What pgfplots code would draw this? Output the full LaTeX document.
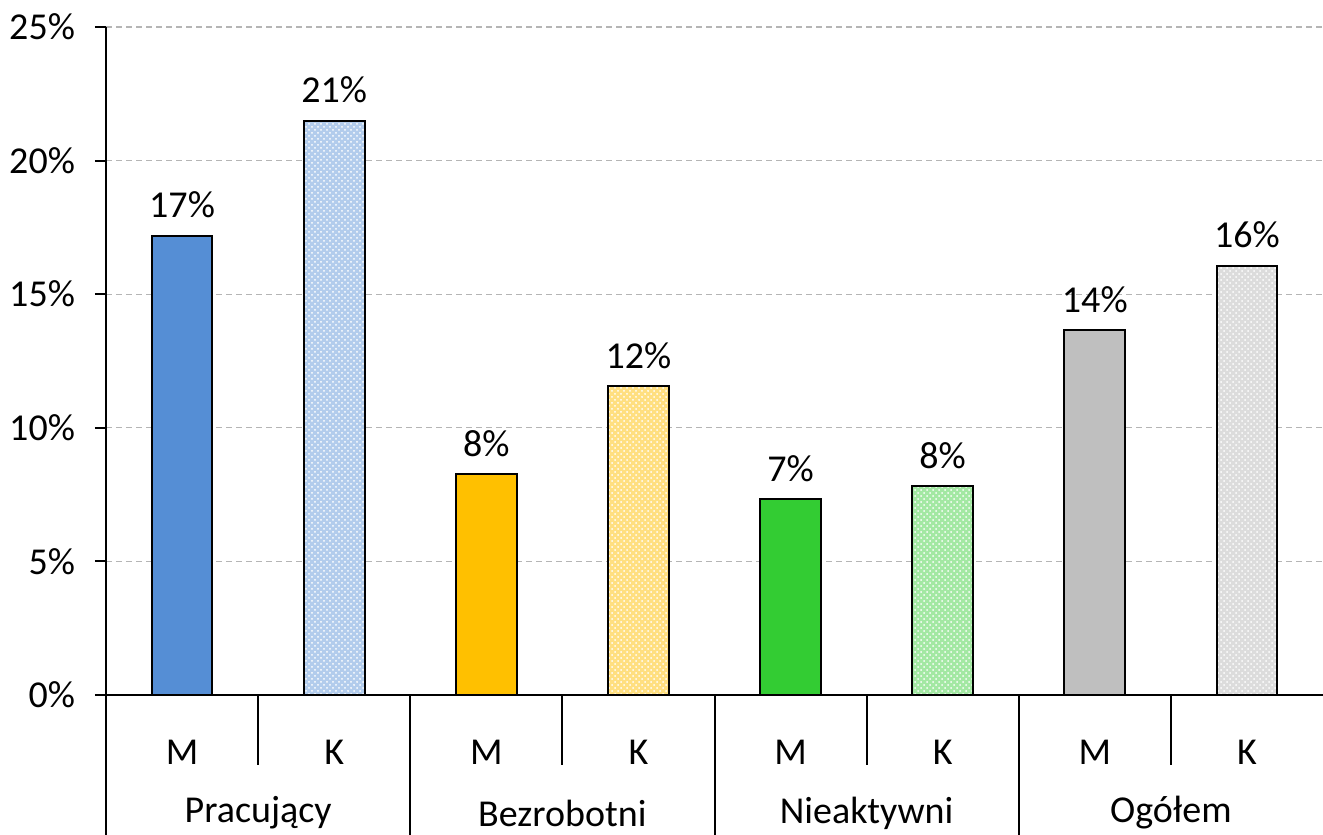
\documentclass[border=0pt]{standalone}
\usepackage{fontspec}
\setmainfont{Carlito}
\usepackage{pgfplots}
\pgfplotsset{compat=1.18}
\usetikzlibrary{patterns}
\definecolor{cblue}{HTML}{558ED5}
\definecolor{cyellow}{HTML}{FFC000}
\definecolor{cgreen}{HTML}{33CC33}
\definecolor{cgray}{HTML}{BFBFBF}
\definecolor{gridc}{HTML}{B5B5B5}
\newcommand{\fs}{\fontsize{19}{23}\selectfont}
\begin{document}
\begin{tikzpicture}
\useasboundingbox (-52.5pt,-70pt) rectangle (609pt,347.5pt);
\begin{axis}[
  at={(0.5pt,0)}, anchor=south west,
  scale only axis, width=608.5pt, height=334pt,
  clip=false,
  ybar, bar width=0.4, bar shift=0pt,
  xmin=-0.5, xmax=7.5, ymin=0, ymax=25,
  axis x line*=bottom, axis y line*=left,
  axis line style={black, line width=1pt},
  ytick={0,5,10,15,20,25},
  yticklabel={\pgfmathprintnumber{\tick}\%},
  /pgf/number format/assume math mode=true,
  tick align=outside, ytick pos=left,
  major tick length=5.5pt,
  y tick style={black, line width=1pt},
  yticklabel style={font=\fs, xshift=-6.5pt},
  xtick={0,1,2,3,4,5,6,7},
  xticklabels={M,K,M,K,M,K,M,K},
  x tick style={draw=none},
  xticklabel style={font=\fs, anchor=center, yshift=-23pt},
  ymajorgrids, grid style={dash pattern=on 3pt off 2pt, gridc, line width=0.6pt},
  nodes near coords, point meta=explicit symbolic,
  every node near coord/.append style={font=\fs, black, yshift=5pt},
  every axis plot/.append style={draw=black, line width=1pt},
]
\addplot[fill=cblue] coordinates {(0,17.18) [17\%]};
\addplot[fill=cblue!45, postaction={pattern=crosshatch dots, pattern color=white}] coordinates {(1,21.5) [21\%]};
\addplot[fill=cyellow] coordinates {(2,8.27) [8\%]};
\addplot[fill=cyellow!50, postaction={pattern=crosshatch dots, pattern color=white}] coordinates {(3,11.56) [12\%]};
\addplot[fill=cgreen] coordinates {(4,7.33) [7\%]};
\addplot[fill=cgreen!45, postaction={pattern=crosshatch dots, pattern color=white}] coordinates {(5,7.82) [8\%]};
\addplot[fill=cgray] coordinates {(6,13.66) [14\%]};
\addplot[fill=cgray!55, postaction={pattern=crosshatch dots, pattern color=white}] coordinates {(7,16.06) [16\%]};
\draw[black, line width=1pt] (axis cs:-0.5,0) -- (axis cs:-0.5,-5.3);
\draw[black, line width=1pt] (axis cs:1.5,0) -- (axis cs:1.5,-5.3);
\draw[black, line width=1pt] (axis cs:3.5,0) -- (axis cs:3.5,-5.3);
\draw[black, line width=1pt] (axis cs:5.5,0) -- (axis cs:5.5,-5.3);
\draw[black, line width=1pt] (axis cs:0.5,0) -- (axis cs:0.5,-2.62);
\draw[black, line width=1pt] (axis cs:2.5,0) -- (axis cs:2.5,-2.62);
\draw[black, line width=1pt] (axis cs:4.5,0) -- (axis cs:4.5,-2.62);
\draw[black, line width=1pt] (axis cs:6.5,0) -- (axis cs:6.5,-2.62);
\node[font=\fs, anchor=center] at ([yshift=-59pt]axis cs:0.5,0) {Pracujący};
\node[font=\fs, anchor=center] at ([yshift=-59pt]axis cs:2.5,0) {Bezrobotni};
\node[font=\fs, anchor=center] at ([yshift=-59pt]axis cs:4.5,0) {Nieaktywni};
\node[font=\fs, anchor=center] at ([yshift=-59pt]axis cs:6.5,0) {Ogółem};
\end{axis}
\end{tikzpicture}
\end{document}
